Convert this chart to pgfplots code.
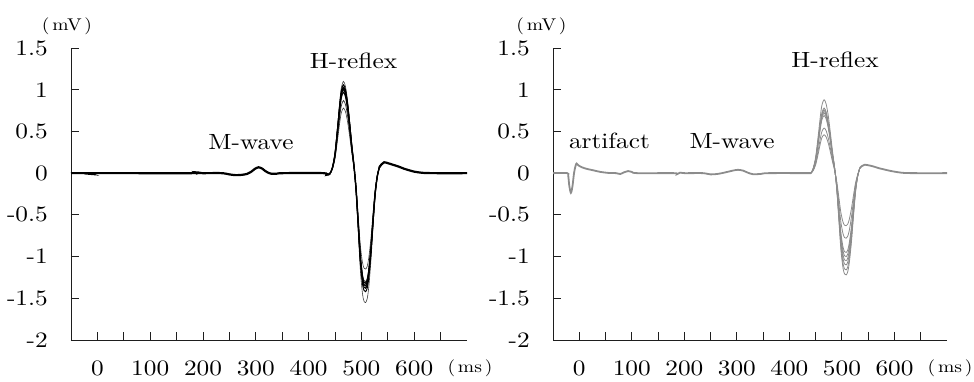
\documentclass[border=0pt]{standalone}
\usepackage{pgfplots}
\pgfplotsset{compat=1.18}
\usepackage{pgfplotstable}
\usepackage{fontspec}
\setmainfont{lmroman10-regular.otf}[FakeStretch=1.15]
\definecolor{trgray}{RGB}{140,140,140}
\definecolor{axcol}{RGB}{30,30,30}

\pgfplotstableread{
x y
-50 0
-20 0
-14 -0.008
-8 0
180 0
185 0.01
188 -0.004
192 0.006
198 0
235 0
250 -0.015
262 -0.024
274 -0.02
284 -0.008
291 0.015
298 0.05
305 0.07
312 0.055
318 0.025
324 0.003
330 -0.008
340 -0.006
352 0
428 0
434 -0.02
438 -0.015
441 0
}\leftpre

\pgfplotstableread{
x y
534 0.07
538 0.105
543 0.13
550 0.12
560 0.1
570 0.08
580 0.055
590 0.035
600 0.018
610 0.008
620 0.002
640 0
700 0
}\lefttail

\pgfplotstableread{
x t1 t2 t3 t4 t5 t6 t7
441 0 0 0 0 0 0 0
445 0.066 0.064 0.062 0.061 0.058 0.052 0.047
450 0.242 0.233 0.227 0.222 0.213 0.191 0.172
455 0.572 0.551 0.536 0.525 0.504 0.452 0.406
459 0.858 0.827 0.803 0.788 0.757 0.679 0.608
462 1.023 0.986 0.958 0.939 0.902 0.809 0.725
466 1.10 1.06 1.03 1.01 0.97 0.87 0.78
470 1.034 0.996 0.968 0.949 0.912 0.818 0.733
474 0.858 0.827 0.803 0.788 0.757 0.679 0.608
478 0.605 0.583 0.567 0.556 0.534 0.479 0.429
482 0.33 0.318 0.309 0.303 0.291 0.261 0.234
486 0.088 0.085 0.082 0.081 0.078 0.070 0.062
490 -0.233 -0.213 -0.207 -0.203 -0.198 -0.195 -0.173
494 -0.698 -0.639 -0.621 -0.608 -0.594 -0.585 -0.518
498 -1.163 -1.065 -1.035 -1.013 -0.99 -0.975 -0.863
502 -1.442 -1.321 -1.283 -1.256 -1.228 -1.209 -1.070
505 -1.535 -1.406 -1.366 -1.337 -1.307 -1.287 -1.139
508 -1.55 -1.42 -1.38 -1.35 -1.32 -1.30 -1.15
511 -1.504 -1.377 -1.339 -1.310 -1.280 -1.261 -1.116
514 -1.364 -1.250 -1.214 -1.188 -1.162 -1.144 -1.012
518 -1.054 -0.966 -0.938 -0.918 -0.898 -0.884 -0.782
522 -0.651 -0.596 -0.580 -0.567 -0.554 -0.546 -0.483
526 -0.279 -0.256 -0.248 -0.243 -0.238 -0.234 -0.207
530 -0.047 -0.043 -0.041 -0.041 -0.040 -0.039 -0.035
534 0.07 0.07 0.07 0.07 0.07 0.07 0.07
}\leftrefl

\pgfplotstableread{
x y
-50 0
-23 0
-21 -0.03
-19 -0.15
-16 -0.236
-13 -0.16
-10 0
-7 0.09
-5 0.116
-2 0.095
5 0.07
15 0.05
26 0.035
40 0.015
55 0.003
70 0
78 -0.01
86 0.012
93 0.025
100 0.015
110 0
180 0
186 -0.012
192 0.006
200 0
235 0
250 -0.015
265 -0.008
280 0.012
292 0.03
302 0.04
312 0.03
320 0.008
330 -0.012
345 -0.01
360 0
441 0
}\rightpre

\pgfplotstableread{
x y
534 0.06
538 0.085
543 0.1
550 0.095
560 0.08
570 0.06
580 0.045
590 0.03
600 0.018
610 0.008
620 0.002
640 0
700 0
}\righttail

\pgfplotstableread{
x r1 r2 r3 r4 r5 r6 r7 r8
441 0 0 0 0 0 0 0 0
445 0.053 0.047 0.046 0.044 0.043 0.041 0.032 0.028
450 0.194 0.172 0.167 0.163 0.158 0.152 0.119 0.101
455 0.458 0.406 0.395 0.385 0.374 0.359 0.281 0.239
459 0.686 0.608 0.593 0.577 0.562 0.538 0.421 0.359
462 0.818 0.725 0.707 0.688 0.670 0.642 0.502 0.428
466 0.88 0.78 0.76 0.74 0.72 0.69 0.54 0.46
470 0.827 0.733 0.714 0.696 0.677 0.649 0.508 0.432
474 0.686 0.608 0.593 0.577 0.562 0.538 0.421 0.359
478 0.484 0.429 0.418 0.407 0.396 0.380 0.297 0.253
482 0.264 0.234 0.228 0.222 0.216 0.207 0.162 0.138
486 0.070 0.062 0.061 0.059 0.058 0.055 0.043 0.037
490 -0.183 -0.174 -0.165 -0.158 -0.15 -0.143 -0.117 -0.095
494 -0.549 -0.522 -0.495 -0.473 -0.45 -0.428 -0.351 -0.284
498 -0.915 -0.87 -0.825 -0.788 -0.75 -0.713 -0.585 -0.473
502 -1.135 -1.079 -1.023 -0.977 -0.93 -0.884 -0.725 -0.586
505 -1.208 -1.148 -1.089 -1.040 -0.99 -0.941 -0.772 -0.624
508 -1.22 -1.16 -1.10 -1.05 -1.0 -0.95 -0.78 -0.63
511 -1.183 -1.125 -1.067 -1.019 -0.97 -0.922 -0.757 -0.611
514 -1.074 -1.021 -0.968 -0.924 -0.88 -0.836 -0.686 -0.554
518 -0.830 -0.789 -0.748 -0.714 -0.68 -0.646 -0.530 -0.428
522 -0.512 -0.487 -0.462 -0.441 -0.42 -0.399 -0.328 -0.265
526 -0.220 -0.209 -0.198 -0.189 -0.18 -0.171 -0.140 -0.113
530 -0.037 -0.035 -0.033 -0.032 -0.03 -0.029 -0.023 -0.019
534 0.06 0.06 0.06 0.06 0.06 0.06 0.06 0.06
}\rightrefl

\pgfplotsset{
  emgaxis/.style={
    scale only axis,
    height=292pt,
    anchor=south west,
    xmin=-50, xmax=700,
    ymin=-2, ymax=1.5,
    axis x line=bottom,
    axis y line=left,
    axis line style={-, draw=axcol, line width=0.9pt},
    tick style={draw=axcol, line width=0.9pt},
    tick align=inside,
    major tick length=8pt,
    xtick={0,50,...,650},
    xticklabels={0,,100,,200,,300,,400,,500,,600,},
    ytick={-2,-1.5,-1,-0.5,0,0.5,1,1.5},
    yticklabels={-2,-1.5,-1,-0.5,0,0.5,1,1.5},
    ticklabel style={font=\fontsize{22}{26}\selectfont, text=black},
    xticklabel style={anchor=center, inner sep=0pt, yshift=-28pt},
    yticklabel style={anchor=east, inner sep=0pt, xshift=-23pt},
    every axis plot/.append style={smooth, no markers},
  }
}

\begin{document}
\begin{tikzpicture}[x=1pt,y=1pt]
\path[use as bounding box] (0,0) rectangle (974,381);

% ---------- left panel ----------
\begin{axis}[emgaxis, width=396pt, at={(71pt,41pt)}]
\addplot[black, line width=2.2pt] table[x=x,y=y] {\leftpre};
\addplot[black, line width=2.2pt] table[x=x,y=y] {\lefttail};
\addplot[black!75, line width=0.6pt] table[x=x,y=t1] {\leftrefl};
\addplot[black!75, line width=0.6pt] table[x=x,y=t7] {\leftrefl};
\addplot[black!80, line width=0.7pt] table[x=x,y=t6] {\leftrefl};
\addplot[black, line width=1.0pt] table[x=x,y=t2] {\leftrefl};
\addplot[black, line width=1.0pt] table[x=x,y=t3] {\leftrefl};
\addplot[black, line width=1.4pt] table[x=x,y=t4] {\leftrefl};
\addplot[black, line width=1.0pt] table[x=x,y=t5] {\leftrefl};
\end{axis}

% ---------- right panel ----------
\begin{axis}[emgaxis, width=394pt, at={(553pt,41pt)}]
\addplot[trgray, line width=1.8pt] table[x=x,y=y] {\rightpre};
\addplot[trgray, line width=1.8pt] table[x=x,y=y] {\righttail};
\addplot[trgray, line width=0.8pt] table[x=x,y=r1] {\rightrefl};
\addplot[trgray, line width=0.8pt] table[x=x,y=r2] {\rightrefl};
\addplot[trgray, line width=0.8pt] table[x=x,y=r3] {\rightrefl};
\addplot[trgray, line width=0.8pt] table[x=x,y=r4] {\rightrefl};
\addplot[trgray, line width=0.8pt] table[x=x,y=r5] {\rightrefl};
\addplot[trgray, line width=0.8pt] table[x=x,y=r6] {\rightrefl};
\addplot[trgray, line width=0.8pt] table[x=x,y=r7] {\rightrefl};
\addplot[trgray, line width=0.8pt] table[x=x,y=r8] {\rightrefl};
\end{axis}

% ---------- texts ----------
\begin{scope}[every node/.style={inner sep=0pt, text=black}]
\node[anchor=base, font=\fontsize{22}{26}\selectfont] at (251,232) {M-wave};
\node[anchor=base, font=\fontsize{22}{26}\selectfont] at (353.5,312.7) {H-reflex};
\node[anchor=base, font=\fontsize{22}{26}\selectfont] at (609.5,232.7) {artifact};
\node[anchor=base, font=\fontsize{22}{26}\selectfont] at (732,233) {M-wave};
\node[anchor=base, font=\fontsize{22}{26}\selectfont] at (835,313) {H-reflex};
\node[font=\fontsize{17}{20}\selectfont] at (67,355) {(\,mV\,)};
\node[font=\fontsize{17}{20}\selectfont] at (541.5,355) {(\,mV\,)};
\node[font=\fontsize{17}{20}\selectfont] at (470,13) {(\,ms\,)};
\node[font=\fontsize{17}{20}\selectfont] at (950,13) {(\,ms\,)};
\end{scope}
\end{tikzpicture}
\end{document}
